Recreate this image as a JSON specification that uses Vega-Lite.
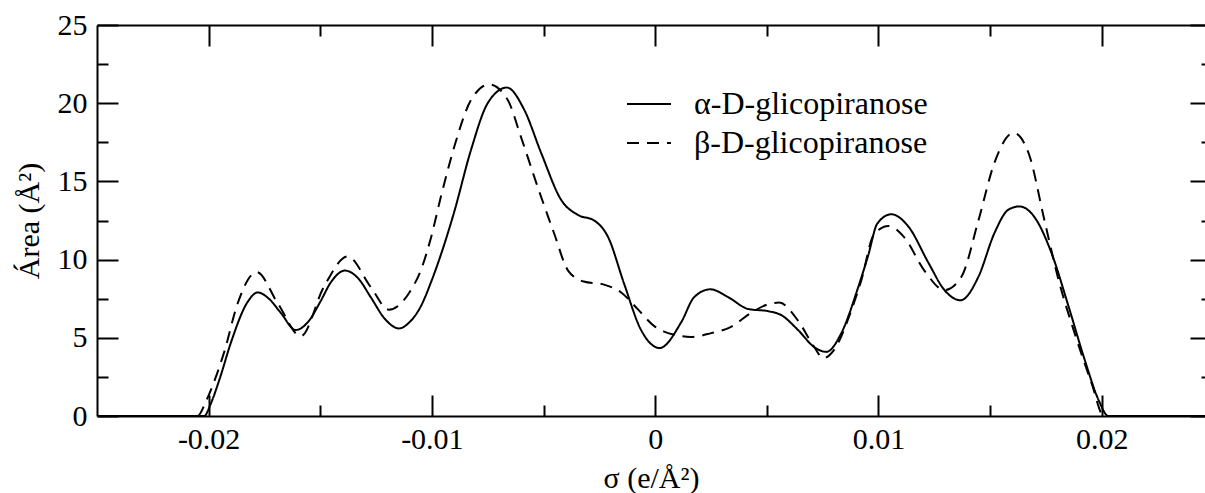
{
  "$schema": "https://vega.github.io/schema/vega-lite/v6.json",
  "width": 1108,
  "height": 391,
  "autosize": {"type": "none"},
  "padding": {"left": 97, "top": 25, "right": 0, "bottom": 77},
  "background": "white",
  "config": {
    "view": {"stroke": null},
    "axis": {"grid": false, "labelFont": "Liberation Serif", "labelFontSize": 30, "labelColor": "black", "titleFont": "Liberation Serif", "titleFontSize": 30, "titleFontWeight": "normal", "titleColor": "black", "domainColor": "black", "domainWidth": 2, "tickColor": "black", "tickWidth": 2, "labelFlush": false, "labelOverlap": false}
  },
  "data": {"values": [
    {"sigma": -0.025, "area": 0, "series": "α-D-glicopiranose"},
    {"sigma": -0.0202, "area": 0, "series": "α-D-glicopiranose"},
    {"sigma": -0.0199, "area": 0.8, "series": "α-D-glicopiranose"},
    {"sigma": -0.0195, "area": 2.4, "series": "α-D-glicopiranose"},
    {"sigma": -0.019, "area": 4.7, "series": "α-D-glicopiranose"},
    {"sigma": -0.01825, "area": 7.3, "series": "α-D-glicopiranose"},
    {"sigma": -0.0178, "area": 7.9, "series": "α-D-glicopiranose"},
    {"sigma": -0.0173, "area": 7.5, "series": "α-D-glicopiranose"},
    {"sigma": -0.01677, "area": 6.6, "series": "α-D-glicopiranose"},
    {"sigma": -0.0161, "area": 5.5, "series": "α-D-glicopiranose"},
    {"sigma": -0.0155, "area": 6.1, "series": "α-D-glicopiranose"},
    {"sigma": -0.015, "area": 7.3, "series": "α-D-glicopiranose"},
    {"sigma": -0.0145, "area": 8.6, "series": "α-D-glicopiranose"},
    {"sigma": -0.0139, "area": 9.3, "series": "α-D-glicopiranose"},
    {"sigma": -0.0133, "area": 8.8, "series": "α-D-glicopiranose"},
    {"sigma": -0.01274, "area": 7.6, "series": "α-D-glicopiranose"},
    {"sigma": -0.0121, "area": 6.2, "series": "α-D-glicopiranose"},
    {"sigma": -0.01148, "area": 5.6, "series": "α-D-glicopiranose"},
    {"sigma": -0.011, "area": 6.0, "series": "α-D-glicopiranose"},
    {"sigma": -0.0105, "area": 7.0, "series": "α-D-glicopiranose"},
    {"sigma": -0.01, "area": 8.7, "series": "α-D-glicopiranose"},
    {"sigma": -0.0096, "area": 10.3, "series": "α-D-glicopiranose"},
    {"sigma": -0.00901, "area": 13.0, "series": "α-D-glicopiranose"},
    {"sigma": -0.00825, "area": 17.0, "series": "α-D-glicopiranose"},
    {"sigma": -0.0075, "area": 20.0, "series": "α-D-glicopiranose"},
    {"sigma": -0.00664, "area": 21.0, "series": "α-D-glicopiranose"},
    {"sigma": -0.00587, "area": 19.6, "series": "α-D-glicopiranose"},
    {"sigma": -0.0051, "area": 16.8, "series": "α-D-glicopiranose"},
    {"sigma": -0.0042, "area": 13.8, "series": "α-D-glicopiranose"},
    {"sigma": -0.00345, "area": 12.85, "series": "α-D-glicopiranose"},
    {"sigma": -0.00273, "area": 12.5, "series": "α-D-glicopiranose"},
    {"sigma": -0.00211, "area": 11.45, "series": "α-D-glicopiranose"},
    {"sigma": -0.0014, "area": 8.5, "series": "α-D-glicopiranose"},
    {"sigma": -0.00063, "area": 5.5, "series": "α-D-glicopiranose"},
    {"sigma": 0.0002, "area": 4.35, "series": "α-D-glicopiranose"},
    {"sigma": 0.00117, "area": 6.0, "series": "α-D-glicopiranose"},
    {"sigma": 0.00175, "area": 7.6, "series": "α-D-glicopiranose"},
    {"sigma": 0.00247, "area": 8.1, "series": "α-D-glicopiranose"},
    {"sigma": 0.00327, "area": 7.6, "series": "α-D-glicopiranose"},
    {"sigma": 0.00417, "area": 6.84, "series": "α-D-glicopiranose"},
    {"sigma": 0.00507, "area": 6.7, "series": "α-D-glicopiranose"},
    {"sigma": 0.00565, "area": 6.45, "series": "α-D-glicopiranose"},
    {"sigma": 0.0064, "area": 5.5, "series": "α-D-glicopiranose"},
    {"sigma": 0.00713, "area": 4.4, "series": "α-D-glicopiranose"},
    {"sigma": 0.00767, "area": 4.1, "series": "α-D-glicopiranose"},
    {"sigma": 0.00834, "area": 5.3, "series": "α-D-glicopiranose"},
    {"sigma": 0.0091, "area": 8.25, "series": "α-D-glicopiranose"},
    {"sigma": 0.00955, "area": 10.3, "series": "α-D-glicopiranose"},
    {"sigma": 0.00995, "area": 12.3, "series": "α-D-glicopiranose"},
    {"sigma": 0.01058, "area": 12.9, "series": "α-D-glicopiranose"},
    {"sigma": 0.01135, "area": 12.1, "series": "α-D-glicopiranose"},
    {"sigma": 0.01224, "area": 9.8, "series": "α-D-glicopiranose"},
    {"sigma": 0.01296, "area": 8.05, "series": "α-D-glicopiranose"},
    {"sigma": 0.01368, "area": 7.4, "series": "α-D-glicopiranose"},
    {"sigma": 0.01448, "area": 8.9, "series": "α-D-glicopiranose"},
    {"sigma": 0.0152, "area": 11.7, "series": "α-D-glicopiranose"},
    {"sigma": 0.01583, "area": 13.2, "series": "α-D-glicopiranose"},
    {"sigma": 0.01632, "area": 13.4, "series": "α-D-glicopiranose"},
    {"sigma": 0.017, "area": 12.7, "series": "α-D-glicopiranose"},
    {"sigma": 0.01776, "area": 10.4, "series": "α-D-glicopiranose"},
    {"sigma": 0.01852, "area": 7.0, "series": "α-D-glicopiranose"},
    {"sigma": 0.01924, "area": 3.6, "series": "α-D-glicopiranose"},
    {"sigma": 0.01987, "area": 1.0, "series": "α-D-glicopiranose"},
    {"sigma": 0.0203, "area": 0, "series": "α-D-glicopiranose"},
    {"sigma": 0.025, "area": 0, "series": "α-D-glicopiranose"},

    {"sigma": -0.025, "area": 0, "series": "β-D-glicopiranose"},
    {"sigma": -0.0205, "area": 0, "series": "β-D-glicopiranose"},
    {"sigma": -0.0201, "area": 1.0, "series": "β-D-glicopiranose"},
    {"sigma": -0.0197, "area": 2.4, "series": "β-D-glicopiranose"},
    {"sigma": -0.0193, "area": 4.1, "series": "β-D-glicopiranose"},
    {"sigma": -0.0187, "area": 7.2, "series": "β-D-glicopiranose"},
    {"sigma": -0.01785, "area": 9.2, "series": "β-D-glicopiranose"},
    {"sigma": -0.0169, "area": 7.2, "series": "β-D-glicopiranose"},
    {"sigma": -0.01587, "area": 5.1, "series": "β-D-glicopiranose"},
    {"sigma": -0.01484, "area": 8.25, "series": "β-D-glicopiranose"},
    {"sigma": -0.01377, "area": 10.2, "series": "β-D-glicopiranose"},
    {"sigma": -0.01274, "area": 8.25, "series": "β-D-glicopiranose"},
    {"sigma": -0.01193, "area": 6.8, "series": "β-D-glicopiranose"},
    {"sigma": -0.01094, "area": 8.05, "series": "β-D-glicopiranose"},
    {"sigma": -0.0105, "area": 9.3, "series": "β-D-glicopiranose"},
    {"sigma": -0.01004, "area": 11.4, "series": "β-D-glicopiranose"},
    {"sigma": -0.0096, "area": 14.0, "series": "β-D-glicopiranose"},
    {"sigma": -0.009, "area": 17.2, "series": "β-D-glicopiranose"},
    {"sigma": -0.00825, "area": 20.2, "series": "β-D-glicopiranose"},
    {"sigma": -0.00744, "area": 21.2, "series": "β-D-glicopiranose"},
    {"sigma": -0.0066, "area": 20.2, "series": "β-D-glicopiranose"},
    {"sigma": -0.006, "area": 17.8, "series": "β-D-glicopiranose"},
    {"sigma": -0.00525, "area": 14.6, "series": "β-D-glicopiranose"},
    {"sigma": -0.00453, "area": 11.7, "series": "β-D-glicopiranose"},
    {"sigma": -0.0039, "area": 9.3, "series": "β-D-glicopiranose"},
    {"sigma": -0.0032, "area": 8.6, "series": "β-D-glicopiranose"},
    {"sigma": -0.00229, "area": 8.4, "series": "β-D-glicopiranose"},
    {"sigma": -0.00152, "area": 7.9, "series": "β-D-glicopiranose"},
    {"sigma": -0.00076, "area": 6.8, "series": "β-D-glicopiranose"},
    {"sigma": -0.00004, "area": 5.75, "series": "β-D-glicopiranose"},
    {"sigma": 0.0004, "area": 5.4, "series": "β-D-glicopiranose"},
    {"sigma": 0.001, "area": 5.15, "series": "β-D-glicopiranose"},
    {"sigma": 0.0016, "area": 5.05, "series": "β-D-glicopiranose"},
    {"sigma": 0.00251, "area": 5.3, "series": "β-D-glicopiranose"},
    {"sigma": 0.0034, "area": 5.7, "series": "β-D-glicopiranose"},
    {"sigma": 0.0043, "area": 6.6, "series": "β-D-glicopiranose"},
    {"sigma": 0.00507, "area": 7.15, "series": "β-D-glicopiranose"},
    {"sigma": 0.00556, "area": 7.25, "series": "β-D-glicopiranose"},
    {"sigma": 0.0064, "area": 6.1, "series": "β-D-glicopiranose"},
    {"sigma": 0.00713, "area": 4.4, "series": "β-D-glicopiranose"},
    {"sigma": 0.00753, "area": 3.7, "series": "β-D-glicopiranose"},
    {"sigma": 0.008, "area": 4.2, "series": "β-D-glicopiranose"},
    {"sigma": 0.0088, "area": 6.8, "series": "β-D-glicopiranose"},
    {"sigma": 0.00924, "area": 8.7, "series": "β-D-glicopiranose"},
    {"sigma": 0.0098, "area": 11.6, "series": "β-D-glicopiranose"},
    {"sigma": 0.01045, "area": 12.15, "series": "β-D-glicopiranose"},
    {"sigma": 0.01117, "area": 11.4, "series": "β-D-glicopiranose"},
    {"sigma": 0.01206, "area": 9.3, "series": "β-D-glicopiranose"},
    {"sigma": 0.01296, "area": 8.05, "series": "β-D-glicopiranose"},
    {"sigma": 0.01372, "area": 8.9, "series": "β-D-glicopiranose"},
    {"sigma": 0.01448, "area": 12.5, "series": "β-D-glicopiranose"},
    {"sigma": 0.0152, "area": 16.2, "series": "β-D-glicopiranose"},
    {"sigma": 0.01605, "area": 18.1, "series": "β-D-glicopiranose"},
    {"sigma": 0.01673, "area": 16.8, "series": "β-D-glicopiranose"},
    {"sigma": 0.01744, "area": 12.5, "series": "β-D-glicopiranose"},
    {"sigma": 0.01807, "area": 8.7, "series": "β-D-glicopiranose"},
    {"sigma": 0.01879, "area": 5.3, "series": "β-D-glicopiranose"},
    {"sigma": 0.01955, "area": 2.1, "series": "β-D-glicopiranose"},
    {"sigma": 0.0201, "area": 0, "series": "β-D-glicopiranose"},
    {"sigma": 0.025, "area": 0, "series": "β-D-glicopiranose"}
  ]},
  "resolve": {"axis": {"x": "independent", "y": "independent"}},
  "layer": [
    {
      "mark": {"type": "line", "stroke": "black", "strokeWidth": 2, "interpolate": "monotone", "clip": true},
      "encoding": {
        "x": {"field": "sigma", "type": "quantitative", "scale": {"domain": [-0.025, 0.02463], "nice": false, "zero": false},
              "axis": {"orient": "bottom", "values": [-0.02, -0.01, 0, 0.01, 0.02], "ticks": false, "domain": true, "labelPadding": 8,
                       "labelExpr": "datum.value == 0 ? '0' : (datum.value < 0 ? '-' : '') + format(abs(datum.value), '~g')",
                       "title": "σ (e/Å²)", "titlePadding": 9}},
        "y": {"field": "area", "type": "quantitative", "scale": {"domain": [0, 25], "nice": false, "zero": false},
              "axis": {"orient": "left", "values": [0, 5, 10, 15, 20, 25], "ticks": false, "domain": true, "labelPadding": 10,
                       "title": "Área (Å²)", "titlePadding": 13}},
        "strokeDash": {"field": "series", "type": "nominal",
                       "scale": {"domain": ["α-D-glicopiranose", "β-D-glicopiranose"], "range": [[1, 0], [12, 8]]},
                       "legend": {"orient": "none", "legendX": 529, "legendY": 56, "title": null, "padding": 0,
                                  "symbolType": "stroke", "symbolSize": 1936, "symbolStrokeWidth": 2, "symbolStrokeColor": "black",
                                  "labelFont": "Liberation Serif", "labelFontSize": 32, "labelColor": "black", "labelOffset": 22, "labelLimit": 0, "rowPadding": -1}}
      }
    },
    {
      "mark": {"type": "point", "opacity": 0},
      "encoding": {
        "x": {"field": "sigma", "type": "quantitative", "axis": {"orient": "bottom", "values": [-0.02, -0.01, 0, 0.01, 0.02], "tickSize": -21, "labels": false, "domain": false, "title": null}},
        "y": {"field": "area", "type": "quantitative", "axis": {"orient": "left", "values": [0, 5, 10, 15, 20, 25], "tickSize": -21, "labels": false, "domain": false, "title": null}}
      }
    },
    {
      "mark": {"type": "point", "opacity": 0},
      "encoding": {
        "x": {"field": "sigma", "type": "quantitative", "axis": {"orient": "top", "values": [-0.02, -0.01, 0, 0.01, 0.02], "tickSize": -21, "labels": false, "domain": true, "title": null}},
        "y": {"field": "area", "type": "quantitative", "axis": {"orient": "right", "values": [0, 5, 10, 15, 20, 25], "tickSize": -15, "labels": false, "domain": false, "title": null}}
      }
    },
    {
      "mark": {"type": "point", "opacity": 0},
      "encoding": {
        "x": {"field": "sigma", "type": "quantitative", "axis": {"orient": "bottom", "values": [-0.015, -0.005, 0.005, 0.015], "tickSize": -11, "labels": false, "domain": false, "title": null}},
        "y": {"field": "area", "type": "quantitative", "axis": {"orient": "left", "values": [2.5, 7.5, 12.5, 17.5, 22.5], "tickSize": -11, "labels": false, "domain": false, "title": null}}
      }
    },
    {
      "mark": {"type": "point", "opacity": 0},
      "encoding": {
        "x": {"field": "sigma", "type": "quantitative", "axis": {"orient": "top", "values": [-0.015, -0.005, 0.005, 0.015], "tickSize": -11, "labels": false, "domain": false, "title": null}},
        "y": {"field": "area", "type": "quantitative", "axis": {"orient": "right", "values": [2.5, 7.5, 12.5, 17.5, 22.5], "tickSize": -4, "labels": false, "domain": false, "title": null}}
      }
    }
  ]
}
